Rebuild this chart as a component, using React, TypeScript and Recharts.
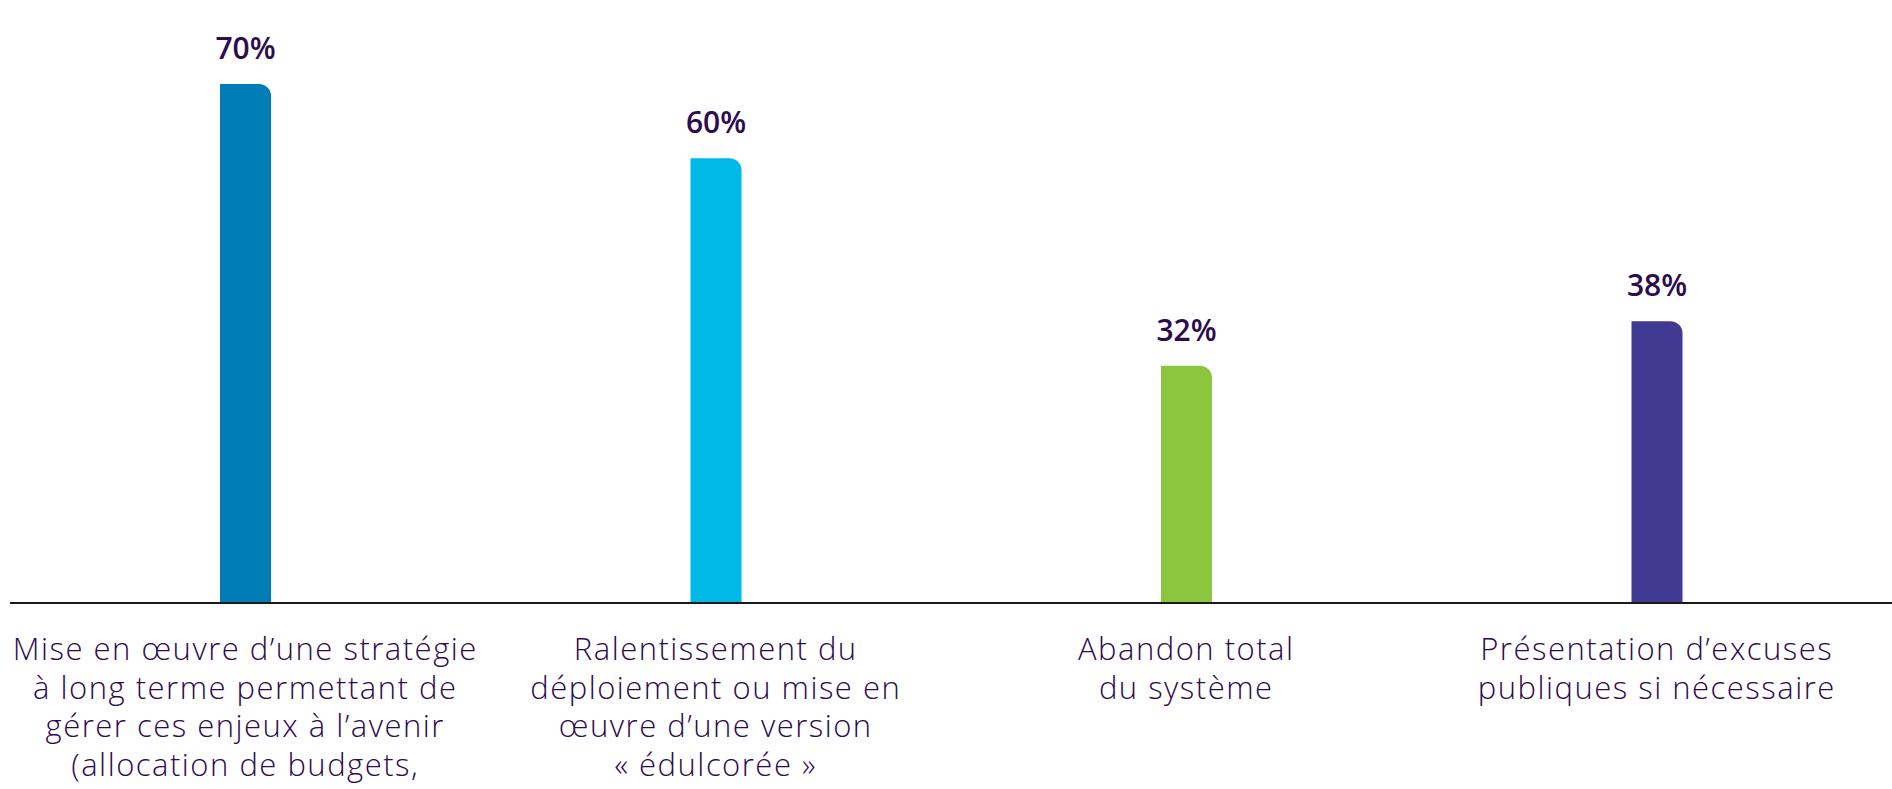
import React from 'react';
import { BarChart, Bar, XAxis, YAxis, Cell, LabelList } from 'recharts';

const categories = [
  'Mise en œuvre d’une stratégie\nà long terme permettant de\ngérer ces enjeux à l’avenir\n(allocation de budgets,',
  'Ralentissement du\ndéploiement ou mise en\nœuvre d’une version\n« édulcorée »',
  'Abandon total\ndu système',
  'Présentation d’excuses\npubliques si nécessaire',
];
const values = [70, 60, 32, 38];
const barColors = ['#007DB7', '#00B9E7', '#8CC63F', '#413A93'];

const TEXT_COLOR = '#2D0B4F';
const FONT = '"Open Sans", "Noto Sans", sans-serif';

const data = categories.map((name, i) => ({ name, value: values[i] }));

const CategoryTick = (props: any) => {
  const { x, y, payload } = props;
  const lines: string[] = String(payload.value).split('\n');
  return (
    <text
      x={x}
      y={y + 57}
      textAnchor="middle"
      fill={TEXT_COLOR}
      fontSize={31}
      fontWeight={300}
      letterSpacing={1.5}
      fontFamily={FONT}
    >
      {lines.map((line, i) => (
        <tspan key={i} x={x} dy={i === 0 ? 0 : 38.5}>
          {line}
        </tspan>
      ))}
    </text>
  );
};

export default function App() {
  return (
    <div style={{ position: 'absolute', left: 0, top: 0, width: 1892, height: 789, background: '#fff' }}>
      <BarChart
        width={1892}
        height={789}
        data={data}
        margin={{ top: 84, right: 0, left: 10, bottom: 0 }}
        barCategoryGap={0}
      >
        <XAxis
          dataKey="name"
          height={186}
          axisLine={{ stroke: '#1A1A1A', strokeWidth: 2 }}
          tickLine={false}
          tickSize={0}
          tickMargin={0}
          interval={0}
          tick={<CategoryTick />}
        />
        <YAxis hide domain={[0, 70]} />
        <Bar dataKey="value" barSize={51} radius={[0, 12, 0, 0]} isAnimationActive={false}>
          {data.map((d, i) => (
            <Cell key={d.name} fill={barColors[i]} />
          ))}
          <LabelList
            dataKey="value"
            position="top"
            offset={25}
            formatter={(v: any) => `${v}%`}
            style={{ fill: TEXT_COLOR, fontSize: 30, fontWeight: 600, fontFamily: FONT }}
          />
        </Bar>
      </BarChart>
    </div>
  );
}
